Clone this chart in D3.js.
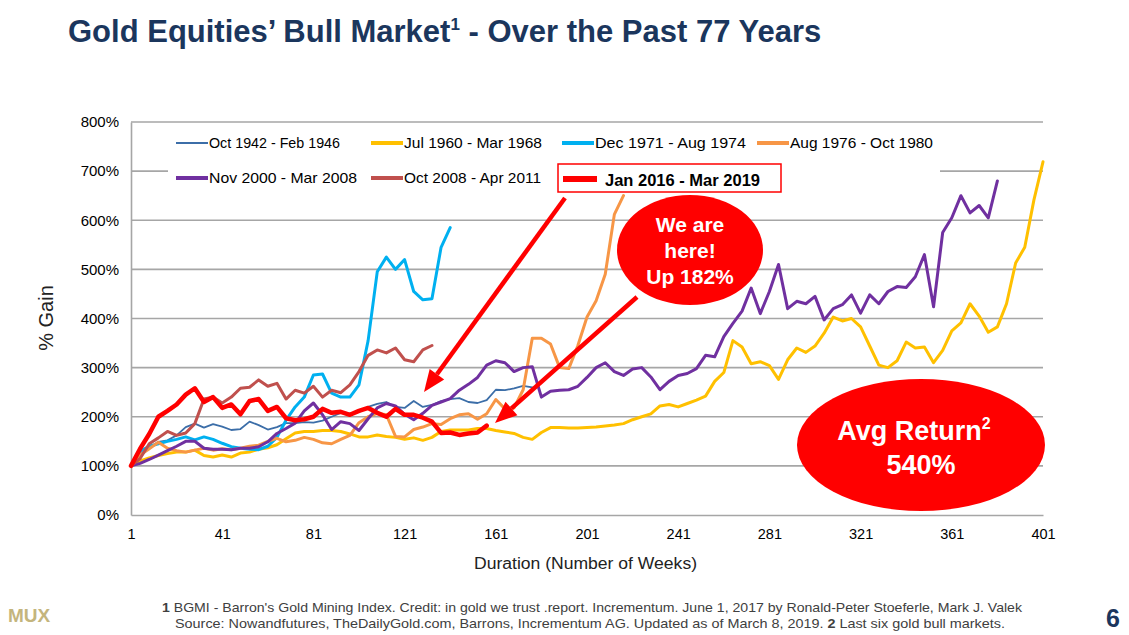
<!DOCTYPE html>
<html><head><meta charset="utf-8">
<script src="https://cdn.jsdelivr.net/npm/d3@7"></script>
<style>
body{margin:0;background:#fff;}
svg{display:block;font-family:"Liberation Sans",Arial,Helvetica,sans-serif;}
</style>
</head><body>
<svg id="chart" width="1129" height="635"></svg>
<script>
// ---------------- DATA ----------------
const weekStep = 4; // each series value is one reading every 4 weeks, starting at week 1
const xTickValues = [1, 41, 81, 121, 161, 201, 241, 281, 321, 361, 401];
const yTickValues = [0, 100, 200, 300, 400, 500, 600, 700, 800];

const seriesLabels = ["Oct 1942 - Feb 1946", "Jul 1960 - Mar 1968", "Dec 1971 - Aug 1974",
  "Aug 1976 - Oct 1980", "Nov 2000 - Mar 2008", "Oct 2008 - Apr 2011", "Jan 2016 - Mar 2019"];

const bull1942 = [100,125,137,149,152,162,179,186,178,185,180,173,175,190,183,174,179,187,187,189,
  188,192,200,208,207,210,220,226,230,220,218,232,220,224,232,236,238,230,228,234,255,254,258,263,260];

const bull1960 = [100,110,116,121,125,128,128,132,121,118,122,118,126,128,134,137,143,155,167,170,
  170,172,172,170,165,159,159,163,160,158,154,157,152,158,170,173,173,173,176,176,
  172,169,166,158,154,168,178,178,177,177,178,179,181,183,186,194,200,206,222,225,
  220,227,234,242,272,290,355,342,308,312,304,276,316,340,331,344,370,403,395,400,
  383,344,305,300,314,352,340,342,310,335,375,391,430,405,372,383,430,513,545,641,719];

const bull1971 = [100,130,140,145,150,154,159,153,159,154,146,139,136,134,133,140,158,193,220,240,
  285,287,248,240,240,265,355,495,525,500,520,455,438,440,545,585];

const bull1976 = [100,122,135,148,136,131,128,132,136,132,135,133,136,140,142,150,156,149,152,158,
  154,147,145,154,162,188,200,207,204,160,159,174,179,186,184,196,204,206,195,206,
  235,216,218,255,360,360,348,300,298,345,403,436,490,612,650];

const bull2000 = [100,105,113,122,131,140,150,150,136,134,134,133,136,136,139,149,166,176,187,212,
  228,204,174,190,186,172,196,218,227,222,205,194,207,223,230,237,254,266,280,305,
  314,310,292,300,302,240,252,254,255,262,280,300,310,292,284,297,300,281,255,272,
  284,288,298,325,322,363,390,415,462,410,455,510,420,435,430,445,397,420,428,448,
  411,448,430,455,465,463,485,530,424,575,605,650,615,630,605,680];

const bull2008 = [100,115,145,157,170,162,167,186,236,240,228,240,258,260,275,262,268,236,254,248,
  262,240,254,249,265,292,325,336,330,340,316,312,336,345];

const bull2016 = [100,135,165,200,212,225,245,258,230,240,218,225,205,232,236,212,220,197,193,195,
  200,216,208,210,204,212,218,208,200,216,204,204,198,190,167,168,163,166,168,182];

const seriesValues = [bull1942, bull1960, bull1971, bull1976, bull2000, bull2008, bull2016];
const seriesColors = ["#3C6EA8", "#FFC000", "#00B0F0", "#F79646", "#7030A0", "#C0504D", "#FF0000"];
const seriesWidths = [1.8, 3, 3, 3, 3, 3, 4.5];
const legendTextWidths = [131, 138, 151, 143, 148, 137];

// ---------------- CHART ----------------
const svg = d3.select("#chart");
const x = d3.scaleLinear().domain([1, 401]).range([131, 1043]);
const y = d3.scaleLinear().domain([0, 800]).range([515, 122]);
const gridColor = "#A6A6A6";

// title
const title = svg.append("text").attr("x", 68).attr("y", 42)
  .attr("font-size", 31).attr("font-weight", "bold").attr("fill", "#1B365D");
title.append("tspan").text("Gold Equities’ Bull Market");
title.append("tspan").attr("font-size", 17).attr("dy", -12).text("1");
title.append("tspan").attr("dy", 12).text(" - Over the Past 77 Years");

// gridlines
svg.append("g").selectAll("line").data(yTickValues.filter(d => d > 0)).join("line")
  .attr("x1", x(1)).attr("x2", x(401))
  .attr("y1", d => y(d)).attr("y2", d => y(d))
  .attr("stroke", gridColor).attr("stroke-width", 1.6);

// y axis
const yAxis = svg.append("g").attr("transform", `translate(${x(1)},0)`)
  .call(d3.axisLeft(y).tickValues(yTickValues).tickFormat(d => d + "%").tickSize(0).tickPadding(12));
yAxis.select(".domain").attr("stroke", gridColor).attr("stroke-width", 1.6);
yAxis.selectAll("text").attr("font-size", 15).attr("fill", "#000")
  .attr("font-family", "'Liberation Sans',Arial,sans-serif");

// x axis
const xAxis = svg.append("g").attr("transform", `translate(0,${y(0)})`)
  .call(d3.axisBottom(x).tickValues(xTickValues).tickFormat(d3.format("d")).tickSize(0).tickPadding(14));
xAxis.select(".domain").attr("stroke", gridColor).attr("stroke-width", 1.6);
xAxis.selectAll("text").attr("font-size", 14.5).attr("fill", "#000")
  .attr("font-family", "'Liberation Sans',Arial,sans-serif");

// axis titles
svg.append("text").attr("x", 474).attr("y", 569)
  .attr("font-size", 16).attr("fill", "#222")
  .attr("textLength", 223).attr("lengthAdjust", "spacingAndGlyphs").text("Duration  (Number of Weeks)");
svg.append("text").attr("transform", "translate(53,318) rotate(-90)").attr("text-anchor", "middle")
  .attr("font-size", 20).attr("fill", "#222").text("% Gain");

// legend background (covers part of the 700% gridline like the original)
svg.append("rect").attr("x", 168).attr("y", 131).attr("width", 772).attr("height", 62).attr("fill", "#fff");

// series lines
const line = d3.line().x((d, i) => x(1 + i * weekStep)).y(d => y(d));
svg.append("g").selectAll("path").data(seriesValues).join("path")
  .attr("d", d => line(d))
  .attr("fill", "none")
  .attr("stroke", (d, i) => seriesColors[i])
  .attr("stroke-width", (d, i) => seriesWidths[i])
  .attr("stroke-linejoin", "round").attr("stroke-linecap", "round");

// legend
const legendPos = [[176, 143], [371, 143], [562, 143], [757, 143], [176, 178], [371, 178]];
const lg = svg.append("g");
legendPos.forEach((p, i) => {
  lg.append("line").attr("x1", p[0]).attr("x2", p[0] + 32).attr("y1", p[1]).attr("y2", p[1])
    .attr("stroke", seriesColors[i]).attr("stroke-width", i === 0 ? 2 : 4);
  lg.append("text").attr("x", p[0] + 33).attr("y", p[1] + 5).attr("font-size", 14.5)
    .attr("fill", "#000").attr("textLength", legendTextWidths[i]).attr("lengthAdjust", "spacingAndGlyphs")
    .text(seriesLabels[i]);
});
lg.append("rect").attr("x", 558).attr("y", 164).attr("width", 223).attr("height", 28)
  .attr("fill", "none").attr("stroke", "#FF0000").attr("stroke-width", 1.5);
lg.append("line").attr("x1", 563).attr("x2", 597).attr("y1", 179).attr("y2", 179)
  .attr("stroke", seriesColors[6]).attr("stroke-width", 6);
lg.append("text").attr("x", 605).attr("y", 186).attr("font-size", 16).attr("font-weight", "bold")
  .attr("fill", "#000").attr("textLength", 155).attr("lengthAdjust", "spacingAndGlyphs").text(seriesLabels[6]);

// arrows
function arrow(x1, y1, x2, y2) {
  const a = Math.atan2(y2 - y1, x2 - x1), L = 22, W = 9;
  const bx = x2 - L * Math.cos(a), by = y2 - L * Math.sin(a);
  svg.append("line").attr("x1", x1).attr("y1", y1).attr("x2", bx).attr("y2", by)
    .attr("stroke", "#FF0000").attr("stroke-width", 4.5);
  const pts = [[x2, y2], [bx + W * Math.sin(a), by - W * Math.cos(a)], [bx - W * Math.sin(a), by + W * Math.cos(a)]];
  svg.append("polygon").attr("points", pts.map(p => p.join(",")).join(" ")).attr("fill", "#FF0000");
}
arrow(565, 198, 424, 392);
arrow(637, 297, 495, 423);

// callout ellipses
svg.append("ellipse").attr("cx", 690).attr("cy", 250).attr("rx", 73).attr("ry", 55).attr("fill", "#FF0000");
const we = svg.append("text").attr("text-anchor", "middle").attr("fill", "#fff")
  .attr("font-size", 21).attr("font-weight", "bold");
we.append("tspan").attr("x", 690).attr("y", 232).text("We are");
we.append("tspan").attr("x", 690).attr("y", 258).text("here!");
we.append("tspan").attr("x", 690).attr("y", 284).text("Up 182%");

svg.append("ellipse").attr("cx", 921).attr("cy", 445).attr("rx", 124).attr("ry", 66).attr("fill", "#FF0000");
const av = svg.append("text").attr("text-anchor", "middle").attr("fill", "#fff")
  .attr("font-size", 27).attr("font-weight", "bold");
av.append("tspan").attr("x", 914).attr("y", 440).text("Avg Return");
av.append("tspan").attr("font-size", 16).attr("dy", -11).text("2");
av.append("tspan").attr("x", 921).attr("y", 474).text("540%");

// footer
svg.append("text").attr("x", 8).attr("y", 622).attr("font-size", 19).attr("font-weight", "bold")
  .attr("fill", "#C4B57D").text("MUX");
const f1 = svg.append("text").attr("x", 162).attr("y", 612)
  .attr("font-size", 13).attr("fill", "#404040")
  .attr("textLength", 860).attr("lengthAdjust", "spacingAndGlyphs");
f1.append("tspan").attr("font-weight", "bold").text("1");
f1.append("tspan").text(" BGMI - Barron's Gold Mining Index. Credit: in gold we trust .report. Incrementum. June 1, 2017 by Ronald-Peter Stoeferle, Mark J. Valek");
const f2 = svg.append("text").attr("x", 175).attr("y", 628)
  .attr("font-size", 13).attr("fill", "#404040")
  .attr("textLength", 830).attr("lengthAdjust", "spacingAndGlyphs");
f2.append("tspan").text("Source: Nowandfutures, TheDailyGold.com, Barrons, Incrementum AG. Updated as of March 8, 2019. ");
f2.append("tspan").attr("font-weight", "bold").text("2");
f2.append("tspan").text(" Last six gold bull markets.");
svg.append("text").attr("x", 1113).attr("y", 627).attr("text-anchor", "middle").attr("font-size", 25)
  .attr("font-weight", "bold").attr("fill", "#1B365D").text("6");
</script>
</body></html>
